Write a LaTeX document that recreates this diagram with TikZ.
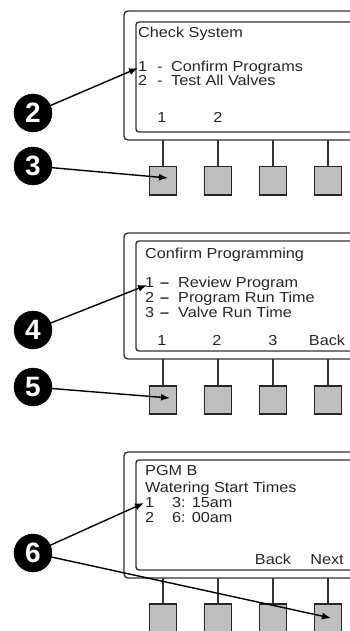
\documentclass[tikz,border=0pt]{standalone}
\usepackage{fontspec}
\setmainfont{Liberation Sans}
\newfontfamily\lcd[FakeStretch=1.12]{Liberation Sans}
\usetikzlibrary{arrows.meta}
\tikzset{
  outerframe/.style={draw=black!80, line width=1.4pt, rounded corners=4pt},
  innerframe/.style={draw=black!80, line width=1.4pt, rounded corners=3pt},
  btn/.style={draw=black!85, line width=1.5pt, fill=black!25, minimum width=27pt, minimum height=28pt, inner sep=0pt, anchor=north},
  stem/.style={draw=black!80, line width=1.3pt},
  badge/.style={circle, fill=black, draw=black, minimum size=38pt, inner sep=0pt, text=white, font=\fontsize{28}{28}\selectfont\bfseries},
  ptr/.style={draw=black, line width=1.4pt, -{Latex[length=9pt,width=7pt]}},
  lcdtxt/.style={anchor=base west, inner sep=0pt, text=black!85, font=\lcd\fontsize{14.5}{15}\selectfont},
  soft/.style={anchor=base, inner sep=0pt, text=black!85, font=\lcd\fontsize{14.5}{15}\selectfont}
}
\begin{document}
\begin{tikzpicture}[x=1pt,y=-1pt]
\useasboundingbox (0,0) rectangle (350,631);
\clip (0,0) rectangle (350,631);

% ---------- Panel 1 ----------
\draw[outerframe] (124,11) rectangle (372,140);
\draw[innerframe] (136,22) rectangle (366,132);
\node[lcdtxt] (p1t) at (138,38) {Check System};
\node[lcdtxt] (p1n1) at (138,72) {1};
\node[lcdtxt] (p1d1) at (157,72) {-};
\node[lcdtxt] (p1a) at (171,72) {Confirm Programs};
\node[lcdtxt] (p1n2) at (138,86) {2};
\node[lcdtxt] (p1d2) at (157,86) {-};
\node[lcdtxt] (p1b) at (171,86) {Test All Valves};
\node[soft] (p1s1) at (162,123) {1};
\node[soft] (p1s2) at (218,123) {2};
\foreach \i/\x in {1/163,2/218,3/273,4/328}{
  \node[btn] (p1k\i) at (\x,166) {};
  \draw[stem] (\x,140) -- (p1k\i.north);
}
\node[badge] (b2) at (33,113) {2};
\node[badge] (b3) at (33,166) {3};
\coordinate (t2) at (138,68);
\coordinate (t3) at (168,178);
\draw[ptr] (b2) -- (t2);
\draw[ptr] (b3) -- (t3);

% ---------- Panel 2 ----------
\draw[outerframe] (124,233) rectangle (372,359);
\draw[innerframe] (136,241) rectangle (366,351);
\node[lcdtxt] (p2t) at (145,258) {Confirm Programming};
\foreach \n/\y/\s in {1/287/Review Program,2/302/Program Run Time,3/317/Valve Run Time}{
  \node[lcdtxt] (p2n\n) at (145,\y) {\n};
  \node[lcdtxt] (p2d\n) at (160,\y) {\bfseries –};
  \node[lcdtxt] (p2l\n) at (178,\y) {\s};
}
\node[soft] (p2s1) at (162,345) {1};
\node[soft] (p2s2) at (217,345) {2};
\node[soft] (p2s3) at (273,345) {3};
\node[soft] (p2s4) at (327,345) {Back};
\foreach \i/\x in {1/163,2/218,3/273,4/328}{
  \node[btn] (p2k\i) at (\x,385) {};
  \draw[stem] (\x,359) -- (p2k\i.north);
}
\node[badge] (b4) at (33,330) {4};
\node[badge] (b5) at (33,387) {5};
\coordinate (t4) at (147,285);
\coordinate (t5) at (170,398);
\draw[ptr] (b4) -- (t4);
\draw[ptr] (b5) -- (t5);

% ---------- Panel 3 ----------
\draw[outerframe] (124,452) rectangle (372,578);
\draw[innerframe] (136,460) rectangle (366,570);
\node[lcdtxt] (p3t) at (145,475) {PGM B};
\node[lcdtxt] (p3u) at (145,492) {Watering Start Times};
\node[lcdtxt] (p3n1) at (145,507) {1};
\node[lcdtxt] (p3a) at (172,507) {3: 15am};
\node[lcdtxt] (p3n2) at (145,522) {2};
\node[lcdtxt] (p3b) at (172,522) {6: 00am};
\node[soft] (p3s3) at (273,564) {Back};
\node[soft] (p3s4) at (327,564) {Next};
\foreach \i/\x in {1/163,2/218,3/273,4/328}{
  \node[btn] (p3k\i) at (\x,603) {};
  \draw[stem] (\x,578) -- (p3k\i.north);
}
\node[badge] (b6) at (33,553) {6};
\coordinate (t6a) at (144,503);
\coordinate (t6b) at (331,618);
\draw[ptr] (b6) -- (t6a);
\draw[ptr] (b6) -- (t6b);
\end{tikzpicture}
\end{document}
